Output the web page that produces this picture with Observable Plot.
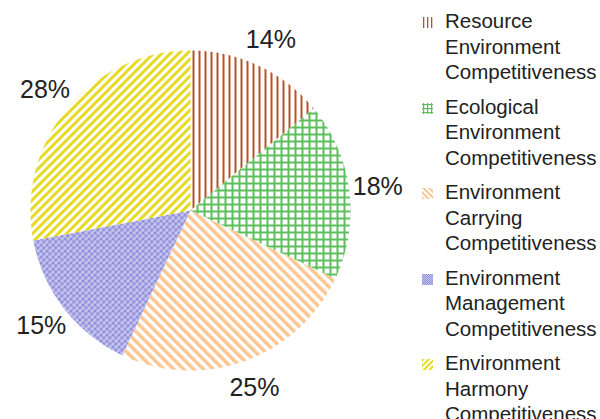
<!DOCTYPE html>
<html><head><meta charset="utf-8">
<script src="https://cdn.jsdelivr.net/npm/d3@7"></script>
<script src="https://cdn.jsdelivr.net/npm/@observablehq/plot@0.6"></script>
<style>
body{margin:0;background:#fff;font-family:"Liberation Sans",Arial,Helvetica,sans-serif;}
#wrap{position:relative;width:600px;height:419px;overflow:hidden;}
#legend{position:absolute;left:422px;top:8px;color:#222;font-size:20.5px;line-height:25.5px;}
.item{position:relative;padding-left:23px;margin-bottom:9px;white-space:nowrap;}
.sw{position:absolute;left:0;top:9px;width:11px;height:11px;}
</style></head><body><div id="wrap"><div id="chart"></div><div id="legend"></div></div>
<script>
const categories = [
  "Resource Environment Competitiveness",
  "Ecological Environment Competitiveness",
  "Environment Carrying Competitiveness",
  "Environment Management Competitiveness",
  "Environment Harmony Competitiveness"
];
const legendLines = [
  ["Resource", "Environment", "Competitiveness"],
  ["Ecological", "Environment", "Competitiveness"],
  ["Environment", "Carrying", "Competitiveness"],
  ["Environment", "Management", "Competitiveness"],
  ["Environment", "Harmony", "Competitiveness"]
];
const shares = [14, 18, 25, 15, 28];
const labels = ["14%", "18%", "25%", "15%", "28%"];
const patternIds = ["pRes", "pEco", "pCar", "pMan", "pHar"];

const total = d3.sum(shares);
const pts = [];
const labs = [];
let acc = 0;
shares.forEach((v, i) => {
  const a0 = acc / total * 2 * Math.PI;
  acc += v;
  const a1 = acc / total * 2 * Math.PI;
  pts.push({cat: categories[i], fill: `url(#${patternIds[i]})`, x: 0, y: 0});
  const n = Math.max(2, Math.ceil((a1 - a0) / 0.01));
  for (let k = 0; k <= n; k++) {
    const a = a0 + (a1 - a0) * k / n;
    pts.push({cat: categories[i], fill: `url(#${patternIds[i]})`, x: Math.sin(a), y: Math.cos(a)});
  }
  const am = (a0 + a1) / 2;
  labs.push({label: labels[i], x: 1.18 * Math.sin(am), y: 1.18 * Math.cos(am)});
});

const plot = Plot.plot({
  width: 600, height: 419, margin: 0,
  x: {domain: [-190/160, 410/160], axis: null},
  y: {domain: [-209/160, 210/160], axis: null},
  color: {type: "identity"},
  marks: [
    Plot.line(pts, {x: "x", y: "y", z: "cat", fill: "fill", stroke: "none", curve: "linear-closed"}),
    Plot.text(labs, {x: "x", y: "y", text: "label", fontSize: 25, fill: "#222", fontFamily: "Liberation Sans, Arial, sans-serif"})
  ]
});

d3.select(plot).insert("defs", ":first-child").html(`
<pattern id="pRes" patternUnits="userSpaceOnUse" width="6" height="6">
  <rect width="6" height="6" fill="#fff"/><rect x="0" width="2" height="6" fill="#b4532a"/>
</pattern>
<pattern id="pEco" patternUnits="userSpaceOnUse" width="7" height="7">
  <rect width="7" height="7" fill="#fff"/><rect width="2" height="7" fill="#5cbf5c"/><rect width="7" height="2" fill="#5cbf5c"/>
</pattern>
<pattern id="pCar" patternUnits="userSpaceOnUse" width="7" height="7" patternTransform="rotate(-45)">
  <rect width="7" height="7" fill="#fff"/><rect width="3.5" height="7" fill="#fdc591"/>
</pattern>
<pattern id="pMan" patternUnits="userSpaceOnUse" width="6" height="6">
  <rect width="6" height="6" fill="#c4c4ee"/>
  <rect x="0" y="0" width="3" height="3" fill="#9090da"/><rect x="3" y="3" width="3" height="3" fill="#9090da"/>
  <rect x="2.5" y="2.5" width="1" height="1" fill="#fff"/>
</pattern>
<pattern id="pHar" patternUnits="userSpaceOnUse" width="6" height="6" patternTransform="rotate(45)">
  <rect width="6" height="6" fill="#fff"/><rect width="3" height="6" fill="#e6da22"/>
</pattern>
<pattern id="sRes" patternUnits="userSpaceOnUse" width="4" height="4">
  <rect width="4" height="4" fill="#fff"/><rect x="1" width="1.3" height="4" fill="#b4532a"/>
</pattern>
<pattern id="sEco" patternUnits="userSpaceOnUse" width="4" height="4">
  <rect width="4" height="4" fill="#fff"/><rect x="1" width="1.2" height="4" fill="#5cbf5c"/><rect y="1" width="4" height="1.2" fill="#5cbf5c"/>
</pattern>
<pattern id="sCar" patternUnits="userSpaceOnUse" width="4" height="4" patternTransform="rotate(-45)">
  <rect width="4" height="4" fill="#fff"/><rect width="2" height="4" fill="#fdc591"/>
</pattern>
<pattern id="sMan" patternUnits="userSpaceOnUse" width="2" height="2">
  <rect width="2" height="2" fill="#c4c4ee"/><rect width="1" height="1" fill="#9090da"/><rect x="1" y="1" width="1" height="1" fill="#9090da"/>
</pattern>
<pattern id="sHar" patternUnits="userSpaceOnUse" width="4" height="4" patternTransform="rotate(45)">
  <rect width="4" height="4" fill="#fff"/><rect width="2" height="4" fill="#e6da22"/>
</pattern>`);

document.getElementById("chart").appendChild(plot);

const swatchIds = ["sRes", "sEco", "sCar", "sMan", "sHar"];
const legend = d3.select("#legend");
legendLines.forEach((lines, i) => {
  const it = legend.append("div").attr("class", "item");
  it.append("svg").attr("class", "sw").attr("width", 11).attr("height", 11)
    .append("rect").attr("width", 11).attr("height", 11).attr("fill", `url(#${swatchIds[i]})`);
  it.append("div").html(lines.join("<br>"));
});
</script></body></html>
